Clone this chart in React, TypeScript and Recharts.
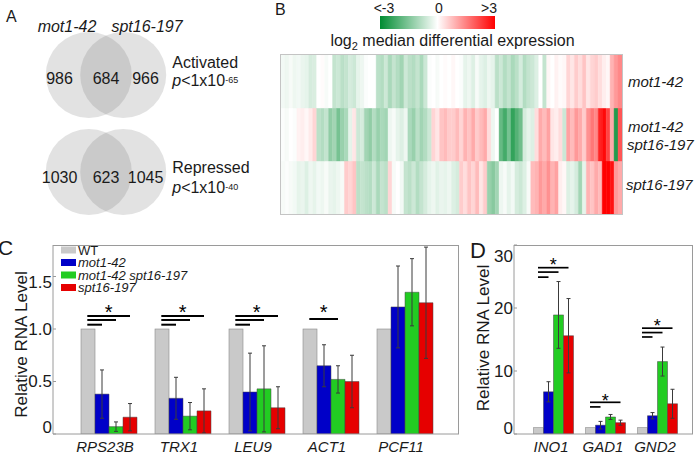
import React from 'react';
import {
  BarChart,
  Bar,
  XAxis,
  YAxis,
  ErrorBar,
  Cell,
  ScatterChart,
  Scatter,
} from 'recharts';

const FONT = 'Arial, "Liberation Sans", Helvetica, sans-serif';
const AXIS_GRAY = '#9a9a9a';
const TEXT = '#1a1a1a';

// ---------------- Panel A : Venn counts ----------------
const vennSetNames = ['mot1-42', 'spt16-197'];
const vennRowNames = ['Activated', 'Repressed'];
const vennLeftOnly = [986, 1030];
const vennOverlap = [684, 623];
const vennRightOnly = [966, 1045];
const vennPExponent = ['-65', '-40'];

// ---------------- Panel B : heatmap (log2 values, columns left -> right) ----------------
const heatRowNames = ['mot1-42', 'mot1-42 spt16-197', 'spt16-197'];
const heatMot1 = [
  -0.15, -0.2, -0.1, -0.2, -0.15, -0.25, -0.3,
  -0.5, -0.45,
  0, 0.05, -0.1, 0,
  -0.7, -0.6, -0.8, -0.7, -0.5, -0.6,
  -0.3, -0.2, -0.05,
  0, 0,
  -0.8, -0.9, -0.6, -1.0, -0.7, -0.9, -1.1, -0.6, -0.8, -0.9, -0.7, -1.0, -0.6,
  -0.05, 0, -0.1, 0, 0.05, 0,
  0.1, 0, -0.05,
  -0.3, -0.2, -0.4, -0.1, -0.3, -0.4, -0.2, -0.3,
  -0.8, -0.6, -0.9, -0.7, -1.0, -0.8, -0.5, -0.9, -0.7, -0.6, -0.4,
  0, -0.7,
  0.1, 0, 0.15, 0.05, 0.1,
  0.5, 0.3, 0.6, 0.4, 0.7, 0.3, 0.5, 0.6, 0.4,
  0.2, 0.1,
  0.9, 1.2,
  1.4,
];
const heatDouble = [
  -0.05, -0.1, 0, -0.05,
  0.15, 0.2, 0.1, 0.25, 0.5,
  -0.8, -0.9, -0.7,
  -1.3, -1.1, -1.6, -1.2, -1.0,
  -0.3, 0.3,
  -0.6, -0.5,
  -1.1, -1.3, -0.9, -1.2, -1.0, -1.1,
  -0.2, -0.1, -0.3, -0.4, -0.2,
  -1.0, -1.2, -0.8, -1.1, -0.9, -0.6,
  0.5, 0.3, 0.7, 0.8, 0.6,
  0.6, 0.8, 0.5, 0.9, 0.7, 1.0, 0.6, 0.8, 1.0, 0.4,
  -0.2, 0,
  -1.8, -2.2, -1.6, -2.4, -2.0, -1.7,
  -0.5, -0.3, -0.4, 0.4,
  1.0, 0.8, 1.1,
  0.3, 0.2, 0.4,
  -0.6,
  1.1, 0.8, 1.2, 1.0, 0.6, 1.3,
  1.6, 1.4,
  2.6, 2.9, 2.2,
  1.0,
  -2.6,
  2.0,
];
const heatSpt16 = [
  -0.1, -0.05, -0.1, -0.15,
  -0.3, -0.25, -0.4, -0.2, -0.3,
  -0.15, -0.2, -0.1, -0.25, -0.3, -0.2, -0.1,
  0.6, 0.5, 0.7,
  -0.8, -0.7,
  -0.8, -0.9, -0.6, -1.0, -0.7, -0.8,
  0.5,
  -0.1, 0, -0.15,
  -0.7, -0.8, -0.6, -0.9, -0.7, -0.5,
  -0.3, -0.2, -0.35, -0.25, -0.3, -0.2,
  -0.4, -0.5,
  0.6, 0.4, 0.7, 0.5, 0.8, 0.3, 0.6,
  -1.2, -1.4, -1.1,
  -0.2, -0.1, -0.3, -0.15,
  -0.5, -0.6, -0.4,
  -0.1, 0.8, 0.9,
  1.2, 1.0, 1.3, 0.9, 1.1,
  0.2, 0.1,
  -0.4, -0.3, -0.5, -1.1, -0.3,
  0.9, 0.7, 1.0, 0.8,
  3, 3, 2.8,
  1.2, 1.0,
];
const colorbarTicks = [-3, 0, 3];
const colorbarTickLabels = ['<-3', '0', '>3'];
const colorbarRange = [{ name: 'scale', range: [-3, 3] }];

// ---------------- Panels C / D : qPCR bars ----------------
const seriesNames = ['WT', 'mot1-42', 'mot1-42 spt16-197', 'spt16-197'];
const seriesItalic = [false, true, true, true];
const seriesColors = ['#c9c9c9', '#0000c8', '#22cc22', '#e60000'];

const genesC = ['RPS23B', 'TRX1', 'LEU9', 'ACT1', 'PCF11'];
const wtC = [1, 1, 1, 1, 1];
const mot1C = [0.38, 0.34, 0.4, 0.65, 1.21];
const mot1ErrC = [0.23, 0.2, 0.37, 0.2, 0.39];
const doubleC = [0.07, 0.17, 0.43, 0.52, 1.35];
const doubleErrC = [0.045, 0.13, 0.41, 0.13, 0.32];
const spt16C = [0.16, 0.22, 0.25, 0.5, 1.25];
const spt16ErrC = [0.13, 0.21, 0.2, 0.25, 0.53];
// significance bars: "to" = index of compared series, "y" = height in data units
const sigC = [
  [{ to: 1, y: 1.041 }, { to: 2, y: 1.086 }, { to: 3, y: 1.124 }],
  [{ to: 1, y: 1.041 }, { to: 2, y: 1.086 }, { to: 3, y: 1.124 }],
  [{ to: 1, y: 1.041 }, { to: 2, y: 1.086 }, { to: 3, y: 1.124 }],
  [{ to: 2, y: 1.095 }],
  [],
];
const starC = [1.21, 1.21, 1.21, 1.21, null];
const yTicksC = [0, 0.5, 1, 1.5];

const genesD = ['INO1', 'GAD1', 'GND2'];
const wtD = [1, 1, 1];
const mot1D = [6.7, 1.4, 2.9];
const mot1ErrD = [1.6, 0.6, 0.5];
const doubleD = [18.9, 2.7, 11.5];
const doubleErrD = [5.3, 0.4, 2.3];
const spt16D = [15.6, 1.8, 4.8];
const spt16ErrD = [5.9, 0.4, 2.3];
const sigD = [
  [{ to: 1, y: 24.9 }, { to: 2, y: 25.7 }, { to: 3, y: 26.4 }],
  [{ to: 1, y: 4.3 }, { to: 3, y: 5.03 }],
  [{ to: 1, y: 15.4 }, { to: 2, y: 16.1 }, { to: 3, y: 16.8 }],
];
const starD = [27.5, 5.9, 17.9];
const yTicksD = [0, 10, 20, 30];

// ---------------- builders ----------------
const dataC = genesC.map((g, i) => ({
  gene: g, wt: wtC[i], mot1: mot1C[i], mot1Err: mot1ErrC[i], dbl: doubleC[i], dblErr: doubleErrC[i],
  spt: spt16C[i], sptErr: spt16ErrC[i], sig: sigC[i], star: starC[i],
}));
const dataD = genesD.map((g, i) => ({
  gene: g, wt: wtD[i], mot1: mot1D[i], mot1Err: mot1ErrD[i], dbl: doubleD[i], dblErr: doubleErrD[i],
  spt: spt16D[i], sptErr: spt16ErrD[i], sig: sigD[i], star: starD[i],
}));
const heatData = heatMot1.map((v, i) => ({
  col: i, mot1: v, dbl: heatDouble[i], spt: heatSpt16[i], u1: 1, u2: 1, u3: 1,
}));

const heatColor = (v: number) => {
  const t = Math.min(Math.abs(v) / 3, 1);
  if (v < 0) {
    return `rgb(${Math.round(255 - 255 * t)},${Math.round(255 - 115 * t)},${Math.round(255 - 205 * t)})`;
  }
  return `rgb(255,${Math.round(255 - 255 * t)},${Math.round(255 - 255 * t)})`;
};

// venn layout (radius units horizontally, row units vertically)
const VENN_R = 43;
const VENN_HALF_SEP = 0.4;
const vennCircles = vennRowNames.flatMap((_, r) => [
  { x: -VENN_HALF_SEP, y: r },
  { x: VENN_HALF_SEP, y: r },
]);
const VENN_NUM_X = [-1.08, 0, 0.92];
const vennNumbers = vennRowNames.flatMap((_, r) =>
  [vennLeftOnly[r], vennOverlap[r], vennRightOnly[r]].map((n, k) => ({ x: VENN_NUM_X[k], y: r, t: n, row: r })),
);
const vennLabels = vennRowNames.map((name, r) => ({ x: 1.54, y: r, name, exp: vennPExponent[r], row: r }));
const VENN_NUM_DY = [9, 11.3];
const VENN_NAME_DY = [-6.7, 1.3];
const VENN_P_DY = [11, 21.3];

// ---------------- shapes ----------------
function makeWtShape(lineWidth: number, starSize: number) {
  return (props: any) => {
    const { x, y, width, height, payload, fill } = props;
    const base = y + height;
    const k = height / payload.wt;
    const py = (v: number) => base - v * k;
    const x0 = x + width * 0.45;
    let maxEnd = x0;
    const lines = (payload.sig || []).map((s: any, i: number) => {
      const x1 = x + width * (s.to + 0.5);
      maxEnd = Math.max(maxEnd, x1);
      return <line key={i} x1={x0} x2={x1} y1={py(s.y)} y2={py(s.y)} stroke="#000" strokeWidth={lineWidth} />;
    });
    return (
      <g>
        <rect x={x} y={y} width={width} height={height} fill={fill} stroke="#8a8a8a" strokeWidth={0.6} />
        {lines}
        {payload.star != null && (
          <text x={(x0 + maxEnd) / 2} y={py(payload.star) + starSize * 0.58} textAnchor="middle"
            fontSize={starSize} fontFamily={FONT} fill="#000">*</text>
        )}
      </g>
    );
  };
}

const makeYTick = (shift: Record<string, number>, fmt: (v: number) => string) => (props: any) => {
  const { x, y, payload } = props;
  const v = payload.value;
  return (
    <text x={x} y={y + (shift[String(v)] || 0)} textAnchor="end" dominantBaseline="central"
      fontSize={17} fontFamily={FONT} fill={TEXT}>{fmt(v)}</text>
  );
};
const makeXTick = (dx: number) => (props: any) => {
  const { x, y, payload } = props;
  return (
    <text x={x + dx} y={y} dy="0.71em" textAnchor="middle" fontSize={15} fontStyle="italic"
      fontFamily={FONT} fill={TEXT}>{payload.value}</text>
  );
};

const X_AXIS_H = 21;

function QpcrChart(props: {
  left: number; top: number;
  data: any[]; width: number; height: number; margin: any; yWidth: number; domain: [number, number];
  ticks: number[]; tickShift: Record<string, number>; fmt: (v: number) => string; padding: any;
  catGap: number; lineWidth: number; starSize: number; xdx: number;
}) {
  const p = props;
  const errProps = { width: 2, stroke: '#3a3a3a', strokeWidth: 1 };
  const edge = { stroke: '#444', strokeWidth: 0.5 };
  const plotL = p.left + p.margin.left + p.yWidth;
  const plotT = p.top + p.margin.top;
  const plotR = p.left + p.width - p.margin.right;
  const plotB = p.top + p.height - p.margin.bottom - X_AXIS_H;
  return (
    <>
      <div style={{ position: 'absolute', left: p.left, top: p.top }}>
        <BarChart width={p.width} height={p.height} data={p.data} margin={p.margin} barCategoryGap={p.catGap} barGap={0}>
          <XAxis dataKey="gene" padding={p.padding} interval={0} tickLine={false} tickSize={0} tickMargin={7}
            height={X_AXIS_H} stroke={AXIS_GRAY} tick={makeXTick(p.xdx)} />
          <YAxis domain={p.domain} ticks={p.ticks} width={p.yWidth} tickSize={-3} tickMargin={4} stroke={AXIS_GRAY}
            allowDataOverflow tick={makeYTick(p.tickShift, p.fmt)} />
          <YAxis yAxisId="r" orientation="right" mirror width={0} domain={p.domain} ticks={p.ticks.slice(1)}
            allowDataOverflow tick={false} tickSize={3} stroke={AXIS_GRAY} />
          <Bar dataKey="wt" fill={seriesColors[0]} isAnimationActive={false} shape={makeWtShape(p.lineWidth, p.starSize)} />
          <Bar dataKey="mot1" fill={seriesColors[1]} {...edge} isAnimationActive={false}>
            <ErrorBar dataKey="mot1Err" direction="y" {...errProps} />
          </Bar>
          <Bar dataKey="dbl" fill={seriesColors[2]} {...edge} isAnimationActive={false}>
            <ErrorBar dataKey="dblErr" direction="y" {...errProps} />
          </Bar>
          <Bar dataKey="spt" fill={seriesColors[3]} {...edge} isAnimationActive={false}>
            <ErrorBar dataKey="sptErr" direction="y" {...errProps} />
          </Bar>
        </BarChart>
      </div>
      {/* axes box: top and right edges */}
      <div style={{
        position: 'absolute', left: plotL, top: plotT, width: plotR - plotL, height: plotB - plotT,
        boxSizing: 'border-box', borderTop: `1px solid ${AXIS_GRAY}`, borderRight: `1px solid ${AXIS_GRAY}`,
        pointerEvents: 'none',
      }} />
    </>
  );
}

const abs = (left: number, top: number): React.CSSProperties => ({ position: 'absolute', left, top });

export default function App() {
  return (
    <div style={{ position: 'absolute', left: 0, top: 0, width: 700, height: 455, background: '#fff', overflow: 'hidden', fontFamily: FONT }}>
      {/* Panel A : Venn diagrams */}
      <div style={abs(0, 0)}>
        <ScatterChart width={270} height={230} margin={{ top: 0, right: 0, bottom: 0, left: 0 }}>
          <XAxis type="number" dataKey="x" domain={[-106 / VENN_R, 164 / VENN_R]} hide allowDataOverflow />
          <YAxis type="number" dataKey="y" domain={[-75 / 97, 155 / 97]} reversed hide allowDataOverflow />
          <Scatter data={vennCircles} isAnimationActive={false}
            shape={(s: any) => <circle cx={s.cx} cy={s.cy} r={VENN_R} fill="#6e6e6e" fillOpacity={0.2} />} />
          <Scatter data={vennNumbers} isAnimationActive={false}
            shape={(s: any) => (
              <text x={s.cx} y={s.cy + VENN_NUM_DY[s.payload.row]} textAnchor="middle" fontSize={16}
                fontFamily={FONT} fill={TEXT}>{s.payload.t}</text>
            )} />
          <Scatter data={vennLabels} isAnimationActive={false}
            shape={(s: any) => (
              <g>
                <text x={s.cx} y={s.cy + VENN_NAME_DY[s.payload.row]} fontSize={16} fontFamily={FONT} fill={TEXT}>
                  {s.payload.name}
                </text>
                <text x={s.cx} y={s.cy + VENN_P_DY[s.payload.row]} fontSize={16} fontFamily={FONT} fill={TEXT}>
                  <tspan fontStyle="italic">p</tspan>
                  <tspan>{'<1x10'}</tspan>
                  <tspan fontSize={9} dy={-3}>{s.payload.exp}</tspan>
                </text>
              </g>
            )} />
        </ScatterChart>
      </div>

      {/* Panel B : colour bar */}
      <div style={abs(360, 0)}>
        <BarChart width={155} height={30} layout="vertical" data={colorbarRange}
          margin={{ top: 0, right: 20, bottom: 0.7, left: 20 }} barCategoryGap={0}>
          <defs>
            <linearGradient id="cbgrad" x1="0" y1="0" x2="1" y2="0">
              <stop offset="0%" stopColor="rgb(0,140,50)" />
              <stop offset="50%" stopColor="#ffffff" />
              <stop offset="100%" stopColor="rgb(255,0,0)" />
            </linearGradient>
          </defs>
          <XAxis type="number" domain={[-3, 3]} orientation="top" height={16} ticks={colorbarTicks}
            axisLine={false} tickLine={false} tickSize={0} tickMargin={3} allowDataOverflow interval={0}
            tick={(t: any) => {
              const k = colorbarTicks.indexOf(t.payload.value);
              const dx = [4, 1.5, -6][k];
              return (
                <text x={t.x + dx} y={t.y} textAnchor="middle" fontSize={14} fontFamily={FONT} fill={TEXT}>
                  {colorbarTickLabels[k]}
                </text>
              );
            }} />
          <YAxis type="category" dataKey="name" hide />
          <Bar dataKey="range" fill="url(#cbgrad)" isAnimationActive={false} />
        </BarChart>
      </div>

      {/* Panel B : heatmap */}
      <div style={abs(281, 55)}>
        <BarChart width={341} height={159} data={heatData} margin={{ top: 0, right: 0, bottom: 0, left: 0 }}
          barCategoryGap={0} barGap={0}>
          <XAxis dataKey="col" hide />
          <YAxis hide domain={[0, 3]} allowDataOverflow />
          <Bar dataKey="u3" stackId="h" isAnimationActive={false}>
            {heatData.map((d, i) => (
              <Cell key={i} fill={heatColor(d.spt)} stroke={heatColor(d.spt)} strokeWidth={0.4} />
            ))}
          </Bar>
          <Bar dataKey="u2" stackId="h" isAnimationActive={false}>
            {heatData.map((d, i) => (
              <Cell key={i} fill={heatColor(d.dbl)} stroke={heatColor(d.dbl)} strokeWidth={0.4} />
            ))}
          </Bar>
          <Bar dataKey="u1" stackId="h" isAnimationActive={false}>
            {heatData.map((d, i) => (
              <Cell key={i} fill={heatColor(d.mot1)} stroke={heatColor(d.mot1)} strokeWidth={0.4} />
            ))}
          </Bar>
        </BarChart>
      </div>
      <div style={{ ...abs(280, 54), width: 341, height: 159, border: '1px solid #c4c4c4' }} />

      {/* Panel C */}
      <QpcrChart left={0} top={230} data={dataC} width={470} height={225}
        margin={{ top: 15, right: 11, bottom: 0, left: 0 }}
        yWidth={53} domain={[0, 1.8]} ticks={yTicksC} tickShift={{ '0': -7, '1.5': 5.5 }}
        fmt={(v) => (v === 0 ? '0' : v.toFixed(1))} padding={{ left: 19, right: 17 }} catGap={9}
        lineWidth={2} starSize={20} xdx={-4} />

      {/* Panel D */}
      <QpcrChart left={480} top={230} data={dataD} width={220} height={225}
        margin={{ top: 15, right: 7, bottom: 0, left: 0 }}
        yWidth={34} domain={[0, 30]} ticks={yTicksD} tickShift={{ '0': -5.5, '30': 11 }}
        fmt={(v) => String(v)} padding={{ left: 13, right: 10 }} catGap={6.5}
        lineWidth={1.7} starSize={18} xdx={-2} />

      {/* Text annotations */}
      <svg width={700} height={455} style={{ position: 'absolute', left: 0, top: 0, pointerEvents: 'none' }}
        fontFamily={FONT} fill={TEXT}>
        <text x={6} y={21.5} fontSize={16}>A</text>
        <text x={275} y={15} fontSize={16}>B</text>
        <text x={-2} y={255} fontSize={21}>C</text>
        <text x={470} y={258} fontSize={22}>D</text>

        <text x={67} y={31.5} fontSize={16} fontStyle="italic" textAnchor="middle">{vennSetNames[0]}</text>
        <text x={147} y={31.5} fontSize={16} fontStyle="italic" textAnchor="middle">{vennSetNames[1]}</text>

        <text x={452.5} y={46} fontSize={16} textAnchor="middle">
          log<tspan fontSize={11} dy={4}>2</tspan>
          <tspan dy={-4}> median differential expression</tspan>
        </text>

        <text x={628} y={86.5} fontSize={15} fontStyle="italic">{heatRowNames[0]}</text>
        <text x={628} y={131.5} fontSize={15} fontStyle="italic">{heatRowNames[1].split(' ')[0]}</text>
        <text x={627} y={149.5} fontSize={15} fontStyle="italic">{heatRowNames[1].split(' ')[1]}</text>
        <text x={626} y={190} fontSize={15} fontStyle="italic">{heatRowNames[2]}</text>

        <text x={27} y={344.5} fontSize={17} textAnchor="middle" transform="rotate(-90 27 344.5)">Relative RNA Level</text>
        <text x={489} y={338} fontSize={17} textAnchor="middle" transform="rotate(-90 489 338)">Relative RNA Level</text>

        {seriesNames.map((n, i) => {
          const cy = 250 + i * 12.5;
          return (
            <g key={n}>
              <rect x={61} y={cy - 3.5} width={15} height={7} fill={seriesColors[i]} />
              <text x={78} y={cy} dominantBaseline="central" fontSize={13} fontStyle={seriesItalic[i] ? 'italic' : 'normal'}>
                {n}
              </text>
            </g>
          );
        })}
      </svg>
    </div>
  );
}
